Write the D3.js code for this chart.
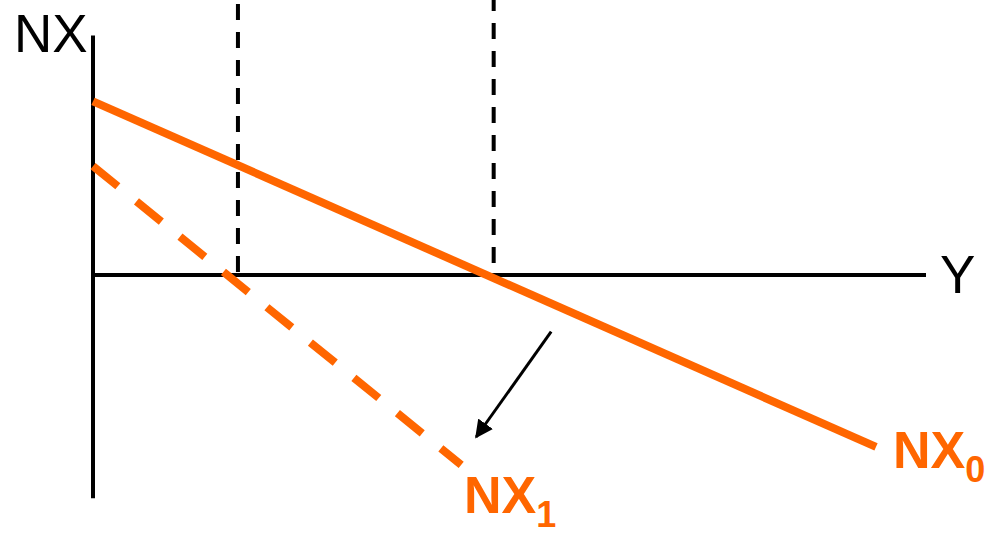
<!DOCTYPE html>
<html>
<head>
<meta charset="utf-8">
<script src="https://cdn.jsdelivr.net/npm/d3@7"></script>
<style>
  html, body { margin: 0; padding: 0; background: #fff; }
  svg { display: block; font-family: "Liberation Sans", Arial, sans-serif; }
</style>
</head>
<body>
<svg id="chart" width="990" height="535"></svg>
<script>
// abstract units: Y along x, NX along y
const xAxisExtent = [0, 100];
const yAxisExtent = [-24.8, 26.6];
const nx0Line = [[0, 19.3], [94.0, -19.1]];
const nx1Line = [[0, 12.1], [44.2, -21.1]];
const guideXs = [17.4, 48.1];
const guideTops = [30.1, 31.1];
const shiftArrow = [[55.0, -6.3], [46.0, -18.0]];

const orange = '#ff6600';
const svg = d3.select('#chart');
const x = d3.scaleLinear().domain([0, 100]).range([93, 926]);
const y = d3.scaleLinear().domain([-25, 25]).range([500, 50]);
const line = d3.line().x(function (d) { return x(d[0]); }).y(function (d) { return y(d[1]); });

svg.append('defs').append('marker')
  .attr('id', 'head')
  .attr('viewBox', '0 0 10 10')
  .attr('refX', 9).attr('refY', 5)
  .attr('markerWidth', 6).attr('markerHeight', 6)
  .attr('markerUnits', 'strokeWidth')
  .attr('orient', 'auto')
  .append('path').attr('d', 'M0,0 L10,5 L0,10 Z').attr('fill', '#000');

// guides, dashed from the top down
svg.append('g').selectAll('line')
  .data(guideXs)
  .join('line')
  .attr('x1', function (d) { return x(d); })
  .attr('x2', function (d) { return x(d); })
  .attr('y1', function (d, i) { return y(guideTops[i]); })
  .attr('y2', y(0))
  .attr('stroke', '#000')
  .attr('stroke-width', 4)
  .attr('stroke-dasharray', '16,12');

// axes
svg.append('line')
  .attr('x1', x(0)).attr('x2', x(0))
  .attr('y1', y(yAxisExtent[0])).attr('y2', y(yAxisExtent[1]))
  .attr('stroke', '#000').attr('stroke-width', 4);
svg.append('line')
  .attr('x1', x(xAxisExtent[0])).attr('x2', x(xAxisExtent[1]))
  .attr('y1', y(0)).attr('y2', y(0))
  .attr('stroke', '#000').attr('stroke-width', 4);

// NX curves
svg.append('path')
  .attr('d', line(nx0Line))
  .attr('fill', 'none').attr('stroke', orange).attr('stroke-width', 8);
svg.append('path')
  .attr('d', line(nx1Line))
  .attr('fill', 'none').attr('stroke', orange).attr('stroke-width', 8)
  .attr('stroke-dasharray', '32,24');

// shift arrow
svg.append('path')
  .attr('d', line(shiftArrow))
  .attr('fill', 'none').attr('stroke', '#000').attr('stroke-width', 3)
  .attr('marker-end', 'url(#head)');

// labels
svg.append('text').attr('x', 14).attr('y', 52)
  .attr('font-size', 53).attr('fill', '#000').text('NX');
svg.append('text').attr('x', 940).attr('y', 293)
  .attr('font-size', 53).attr('fill', '#000').text('Y');

function subLabel(px, py, main, sub) {
  const t = svg.append('text').attr('x', px).attr('y', py)
    .attr('font-size', 52).attr('font-weight', 'bold').attr('fill', orange);
  t.append('tspan').text(main);
  t.append('tspan').attr('font-size', 36).attr('dy', 14).text(sub);
}
subLabel(893, 468, 'NX', '0');
subLabel(464, 513, 'NX', '1');
</script>
</body>
</html>
